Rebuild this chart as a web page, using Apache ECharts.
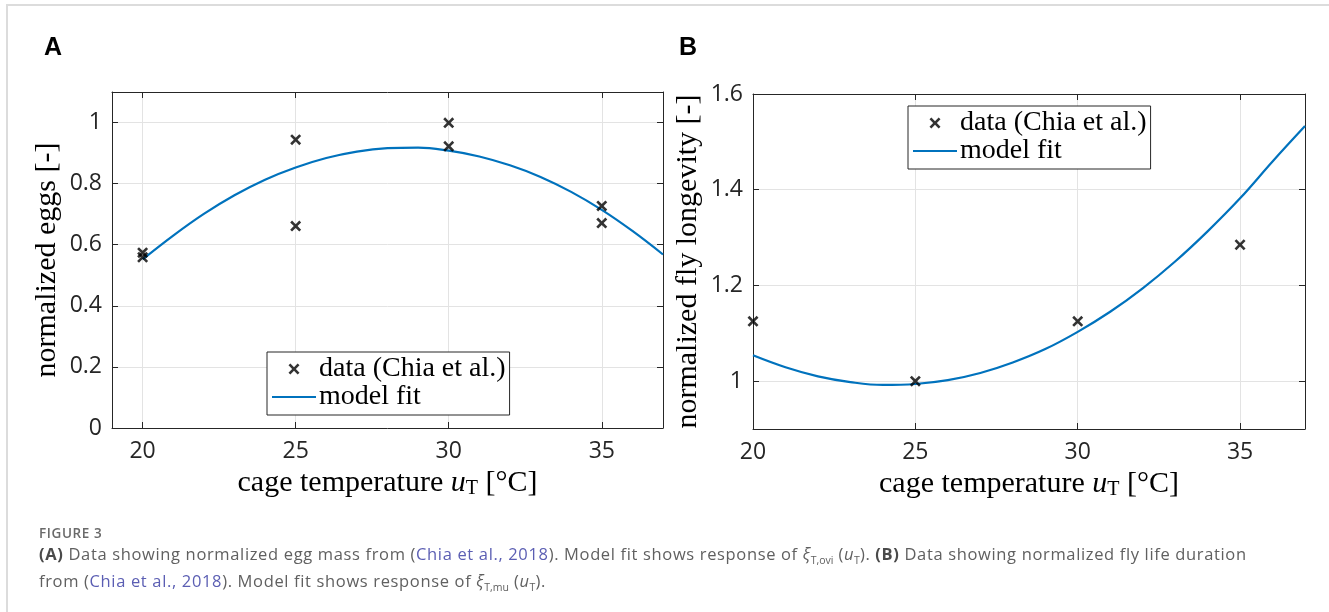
<!DOCTYPE html>
<html>
<head>
<meta charset="utf-8">
<title>Figure 3</title>
<script src="https://cdn.jsdelivr.net/npm/echarts@6/dist/echarts.min.js"></script>
<style>
    html, body { margin: 0; padding: 0; background: #fff; }
    #wrap { position: relative; width: 1329px; height: 612px; overflow: hidden; }
    #frame { position: absolute; left: 6px; top: 4px; width: 1340px; height: 620px;
             border-left: 2px solid #dcdcdc; border-top: 2px solid #dcdcdc; }
    #chart { position: absolute; left: 0; top: 0; width: 1329px; height: 612px; }
    #caption { position: absolute; left: 39px; top: 525px; font-family: "Open Sans", sans-serif; color: #606060; }
    #caption .fig { font-size: 13.5px; font-weight: 600; color: #6a6a6a; line-height: 16px; letter-spacing: 0.6px; }
    #caption .txt { font-size: 16.5px; line-height: 26.5px; letter-spacing: 0.65px; }
    #caption b { font-weight: 700; color: #4a4a4a; }
    #caption .ref { color: #5b5eb3; }
    #caption sub { font-size: 10.5px; line-height: 0; letter-spacing: 0; }
</style>
</head>
<body>
<div id="wrap">
    <div id="frame"></div>
    <div id="chart"></div>
    <div id="caption">
        <div class="fig">FIGURE 3</div>
        <div class="txt"><b>(A)</b> Data showing normalized egg mass from (<span class="ref">Chia et al., 2018</span>). Model fit shows response of <i>ξ</i><sub>T,ovi</sub> (<i>u</i><sub>T</sub>). <b>(B)</b> Data showing normalized fly life duration<br>from (<span class="ref">Chia et al., 2018</span>). Model fit shows response of <i>ξ</i><sub>T,mu</sub> (<i>u</i><sub>T</sub>).</div>
    </div>
</div>
<script>
// 数据 (A: 产卵量, B: 寿命)
const eggsTemp = [20, 20, 25, 25, 30, 30, 35, 35];
const eggsData = [0.574, 0.559, 0.944, 0.661, 0.999, 0.922, 0.727, 0.671];

const fitTemp = [20, 21, 22, 23, 24, 25, 26, 27, 28, 29, 30, 31, 32, 33, 34, 35, 36, 37];
const eggsFit = [0.552, 0.630, 0.701, 0.762, 0.813, 0.853, 0.884, 0.905, 0.916, 0.918,
                 0.908, 0.889, 0.860, 0.822, 0.773, 0.714, 0.645, 0.568];

const lifeTemp = [20, 25, 30, 35];
const lifeData = [1.125, 1.0, 1.125, 1.285];
const lifeFit = [1.054, 1.029, 1.010, 0.998, 0.992, 0.994, 1.002, 1.017, 1.039, 1.067,
                 1.103, 1.145, 1.194, 1.250, 1.313, 1.382, 1.459, 1.533];

const xTicks = [20, 25, 30, 35];
const eggsTicks = [0, 0.2, 0.4, 0.6, 0.8, 1];
const lifeTicks = [1, 1.2, 1.4, 1.6];

const dataName = 'data (Chia et al.)';
const fitName = 'model fit';

const AXIS_COLOR = '#262626';
const GRID_COLOR = '#e3e3e3';
const FIT_COLOR = '#0072bd';
const SERIF = '"Liberation Serif", "DejaVu Serif", serif';
const SANS = '"Open Sans", "Noto Sans", sans-serif';
const CROSS = 'path://M0,1.7L1.7,0L5,3.3L8.3,0L10,1.7L6.7,5L10,8.3L8.3,10L5,6.7L1.7,10L0,8.3L3.3,5Z';
const LINE_ICON = 'path://M0,0L44,0L44,2.2L0,2.2Z';

window.addEventListener('DOMContentLoaded', function() {
    initChart();
});

function pairs(xs, ys) {
    return xs.map((x, i) => [x, ys[i]]);
}

// 主坐标轴 (带刻度标签和网格线)
function mainAxis(type, gridIndex, min, max, ticks, name, nameGap) {
    const isX = type === 'x';
    return {
        type: 'value',
        gridIndex: gridIndex,
        position: isX ? 'bottom' : 'left',
        min: min,
        max: max,
        name: name,
        nameLocation: 'middle',
        nameGap: nameGap,
        nameTextStyle: isX ? {
            rich: {
                r: { fontFamily: SERIF, fontSize: 30, color: '#000', lineHeight: 32 },
                i: { fontFamily: SERIF, fontSize: 30, fontStyle: 'italic', color: '#000', lineHeight: 32 },
                s: { fontFamily: SERIF, fontSize: 20, color: '#000', lineHeight: 20, verticalAlign: 'bottom' }
            }
        } : { fontFamily: SERIF, fontSize: 30, color: '#000' },
        axisLine: { show: true, onZero: false, lineStyle: { color: AXIS_COLOR, width: 1 } },
        axisTick: { show: true, inside: true, length: 6, customValues: ticks, lineStyle: { color: AXIS_COLOR } },
        axisLabel: {
            show: true,
            customValues: ticks,
            margin: isX ? 12 : 10,
            fontFamily: SANS,
            fontSize: 23,
            color: AXIS_COLOR
        },
        splitLine: { show: true, lineStyle: { color: GRID_COLOR, width: 1 } }
    };
}

// 对侧坐标轴 (只画边框和刻度)
function boxAxis(type, gridIndex, min, max, ticks) {
    const isX = type === 'x';
    return {
        type: 'value',
        gridIndex: gridIndex,
        position: isX ? 'top' : 'right',
        min: min,
        max: max,
        axisLine: { show: true, onZero: false, lineStyle: { color: AXIS_COLOR, width: 1 } },
        axisTick: { show: true, inside: true, length: 6, customValues: ticks, lineStyle: { color: AXIS_COLOR } },
        axisLabel: { show: false },
        splitLine: { show: false }
    };
}

function legendBox(left, top) {
    return {
        left: left,
        top: top,
        orient: 'vertical',
        selectedMode: false,
        data: [
            { name: dataName },
            { name: fitName, icon: LINE_ICON, itemStyle: { color: FIT_COLOR } }
        ],
        itemWidth: 44,
        itemHeight: 11,
        itemGap: 0,
        padding: [3, 4, 4, 5],
        borderColor: AXIS_COLOR,
        borderWidth: 1,
        backgroundColor: '#fff',
        textStyle: { fontFamily: SERIF, fontSize: 28, lineHeight: 28, color: '#000', padding: [0, 0, 0, -2] }
    };
}

function initChart() {
    const chartDom = document.getElementById('chart');
    const myChart = echarts.init(chartDom, null, { renderer: 'canvas' });

    const xName = '{r|cage temperature }{i|u}{s|T}{r| [°C]}';
    const panelFont = { fontFamily: '"Liberation Sans", Arial, sans-serif', fontWeight: 'bold', fontSize: 25, color: '#000' };

    const option = {
        animation: false,
        backgroundColor: 'transparent',
        title: [
            { text: 'A', left: 39, top: 31, textStyle: panelFont },
            { text: 'B', left: 674, top: 31, textStyle: panelFont }
        ],
        grid: [
            { left: 112, top: 92, width: 551, height: 336 },
            { left: 753, top: 94, width: 552, height: 335 }
        ],
        xAxis: [
            mainAxis('x', 0, 19, 37, xTicks, xName, 32),
            boxAxis('x', 0, 19, 37, xTicks),
            mainAxis('x', 1, 20, 37, xTicks, xName, 31),
            boxAxis('x', 1, 20, 37, xTicks)
        ],
        yAxis: [
            mainAxis('y', 0, 0, 1.1, eggsTicks, 'normalized eggs [-]', 50),
            boxAxis('y', 0, 0, 1.1, eggsTicks),
            mainAxis('y', 1, 0.9, 1.6, lifeTicks, 'normalized fly longevity [-]', 50),
            boxAxis('y', 1, 0.9, 1.6, lifeTicks)
        ],
        legend: [
            legendBox(267, 352),
            legendBox(908, 106)
        ],
        series: [
            {
                name: fitName,
                type: 'line',
                xAxisIndex: 0,
                yAxisIndex: 0,
                data: pairs(fitTemp, eggsFit),
                smooth: 0.4,
                symbol: 'none',
                lineStyle: { color: FIT_COLOR, width: 2.2 },
                itemStyle: { color: FIT_COLOR }
            },
            {
                name: dataName,
                type: 'scatter',
                xAxisIndex: 0,
                yAxisIndex: 0,
                data: pairs(eggsTemp, eggsData),
                symbol: CROSS,
                symbolSize: 11,
                itemStyle: { color: '#000' },
                z: 3
            },
            {
                name: fitName,
                type: 'line',
                xAxisIndex: 2,
                yAxisIndex: 2,
                data: pairs(fitTemp, lifeFit),
                smooth: 0.4,
                symbol: 'none',
                lineStyle: { color: FIT_COLOR, width: 2.2 },
                itemStyle: { color: FIT_COLOR }
            },
            {
                name: dataName,
                type: 'scatter',
                xAxisIndex: 2,
                yAxisIndex: 2,
                data: pairs(lifeTemp, lifeData),
                symbol: CROSS,
                symbolSize: 11,
                itemStyle: { color: '#000' },
                z: 3
            }
        ]
    };

    myChart.setOption(option);
    window.addEventListener('resize', () => myChart.resize());
}
</script>
</body>
</html>
